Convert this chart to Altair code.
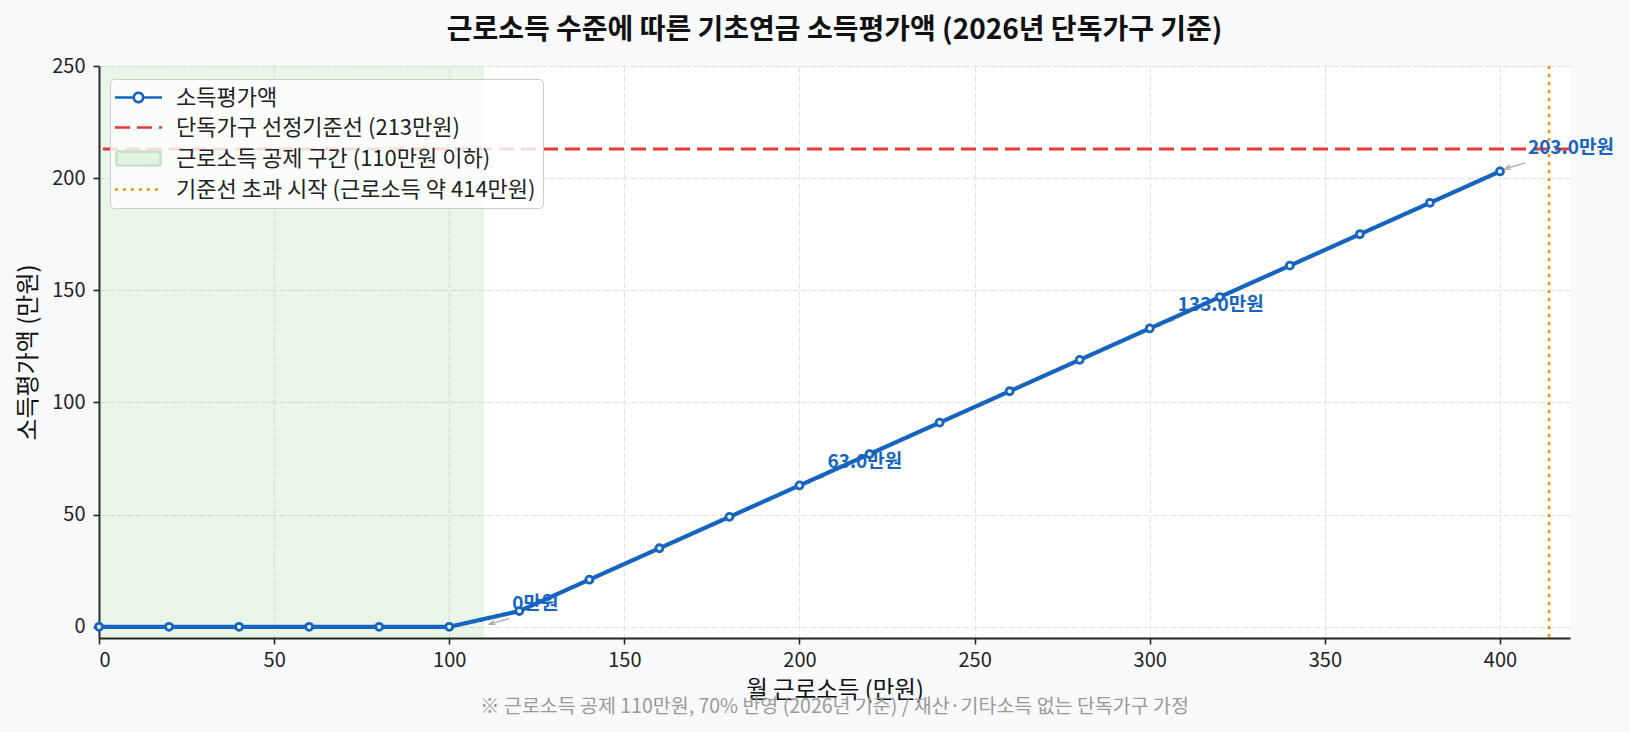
import altair as alt
import pandas as pd

# ---------------- data ----------------
income = [0, 20, 40, 60, 80, 100, 120, 140, 160, 180, 200, 220, 240, 260, 280, 300, 320, 340, 360, 380, 400]
evaluated = [0, 0, 0, 0, 0, 0, 7, 21, 35, 49, 63, 77, 91, 105, 119, 133, 147, 161, 175, 189, 203]
series_name = "소득평가액"

threshold = [213]
deduction_start = [0]
deduction_end = [110]
crossover = [414]

ann_x = [110, 200, 300, 400]
ann_y = [0, 63, 133, 203]
ann_text = ["0만원", "63.0만원", "133.0만원", "203.0만원"]

legend_labels = [
    "소득평가액",
    "단독가구 선정기준선 (213만원)",
    "근로소득 공제 구간 (110만원 이하)",
    "기준선 초과 시작 (근로소득 약 414만원)",
]
legend_colors = ["#1565c0", "#e53935", "#c4e2c5", "#ff8c00"]
legend_dash = [[1, 0], [15, 7], [1, 0], [3, 5]]

x_ticks = [0, 50, 100, 150, 200, 250, 300, 350, 400]
y_ticks = [0, 50, 100, 150, 200, 250]

title_text = "근로소득 수준에 따른 기초연금 소득평가액 (2026년 단독가구 기준)"
x_title = "월 근로소득 (만원)"
y_title = "소득평가액 (만원)"
footnote = ["※ 근로소득 공제 110만원, 70% 반영 (2026년 기준) / 재산·기타소득 없는 단독가구 가정"]

# ---------------- layout ----------------
W, H = 1471, 572
FONT = "Noto Sans CJK KR"
BLUE = "#1565c0"

df = pd.DataFrame({"income": income, "value": evaluated, "series": [series_name] * len(income)})
ann = pd.DataFrame({"x": ann_x, "y": ann_y, "label": ann_text})
band = pd.DataFrame({"x0": deduction_start, "x1": deduction_end})
hline = pd.DataFrame({"y": threshold})
vline = pd.DataFrame({"x": crossover})
foot = pd.DataFrame({"t": footnote})

xs = alt.Scale(domain=[0, 420], nice=False, zero=False)
ys = alt.Scale(domain=[-5, 250], nice=False, zero=False)
x_axis = alt.Axis(values=x_ticks, labelPadding=6, titlePadding=8)
y_axis = alt.Axis(values=y_ticks, labelPadding=8, titlePadding=11)


def X(field):
    return alt.X(field, scale=xs, title=x_title, axis=x_axis)


def Y(field):
    return alt.Y(field, scale=ys, title=y_title, axis=y_axis)


L0, L1, L2, L3 = legend_labels
shape_expr = (
    f"datum.value == '{L0}' ? 'M-2.35,0H-0.47M0.47,0H2.35M0.47,0A0.47,0.47,0,1,1,-0.47,0A0.47,0.47,0,1,1,0.47,0' : "
    f"datum.value == '{L2}' ? 'M-2.2,-0.7H2.2V0.7H-2.2Z' : 'M-2.35,0H2.35'"
)
fill_expr = (
    f"datum.value == '{L0}' ? 'white' : datum.value == '{L2}' ? '#e3f1e3' : 'transparent'"
)

legend = alt.Legend(
    title=None, orient="none", legendX=11, legendY=13,
    fillColor="rgba(255,255,255,0.82)", strokeColor="#cccccc", cornerRadius=4,
    padding=7, labelFont=FONT, labelFontSize=22, labelColor="#222222", labelLimit=0,
    symbolType={"expr": shape_expr},
    symbolFillColor={"expr": fill_expr},
    symbolStrokeWidth=2.6,
    symbolSize=400, symbolOffset=10, labelOffset=26, rowPadding=7,
)

band_layer = alt.Chart(band).mark_rect(color="#4caf50", opacity=0.13).encode(
    x=X("x0:Q"), x2="x1:Q",
    y=alt.value(0), y2=alt.value(H),
)

red_layer = alt.Chart(hline).mark_rule(color="#e53935", strokeWidth=3, strokeDash=[15, 7]).encode(
    y=Y("y:Q")
)

orange_layer = alt.Chart(vline).mark_rule(color="#ff8c00", strokeWidth=2.5, strokeDash=[3, 5]).encode(
    x=X("x:Q")
)

text_layer = alt.Chart(ann).mark_text(
    align="left", baseline="middle", dx=28, dy=-23, fontSize=19, fontWeight="bold",
    color=BLUE, font=FONT,
).encode(
    x=X("x:Q"), y=Y("y:Q"), text="label:N"
)

arrow_layer = alt.Chart(ann).mark_rule(
    color="#aaaaaa", strokeWidth=1.3, xOffset=25, yOffset=-8.5, x2Offset=5, y2Offset=-2.5
).encode(
    x=X("x:Q"), x2="x:Q", y=Y("y:Q"), y2="y:Q",
)

head_layer = alt.Chart(ann).mark_point(
    shape="M1.4,-0.55L0,0L1.4,0.55", filled=False, stroke="#aaaaaa", strokeWidth=1.3,
    size=64, angle=342, xOffset=5, yOffset=-2.5, opacity=1,
).encode(
    x=X("x:Q"), y=Y("y:Q")
)

line_layer = alt.Chart(df).mark_line(strokeWidth=4.2).encode(
    x=X("income:Q"),
    y=Y("value:Q"),
    color=alt.Color("series:N", scale=alt.Scale(domain=legend_labels, range=legend_colors), legend=legend),
    strokeDash=alt.StrokeDash("series:N", scale=alt.Scale(domain=legend_labels, range=legend_dash), legend=legend),
)

point_layer = alt.Chart(df).mark_point(
    shape="circle", filled=True, fill="white", stroke=BLUE, strokeWidth=2.8, size=49, opacity=1
).encode(
    x=X("income:Q"), y=Y("value:Q")
)

foot_layer = alt.Chart(foot).mark_text(
    align="center", baseline="middle", fontSize=19.5, color="#999999", font=FONT
).encode(
    x=alt.value(W / 2), y=alt.value(H + 69), text="t:N"
)

chart = alt.layer(
    band_layer, red_layer, orange_layer, text_layer, arrow_layer, head_layer,
    line_layer, point_layer, foot_layer,
).properties(
    width=W, height=H,
    title=alt.Title(title_text, font=FONT, fontSize=28, fontWeight="bold", color="#111111",
                    anchor="middle", frame="group", baseline="bottom", offset=-17),
    padding={"left": 99, "top": 66, "right": 60, "bottom": 94},
    autosize="none",
    background="#f8f9fa",
).configure_view(
    stroke="transparent", fill="white"
).configure_axis(
    labelFont=FONT, titleFont=FONT, labelFontSize=20, titleFontSize=23.5,
    labelColor="#222222", titleColor="#111111", titleFontWeight="normal",
    gridColor="#e2e2e2", gridDash=[6, 3], gridWidth=1,
    domainColor="#222222", domainWidth=2, tickColor="#222222", tickSize=6, tickWidth=1.6,
).configure_axisY(
    titleFontSize=24
)

chart.save("out.html", embed_options={"renderer": "svg", "actions": False})
